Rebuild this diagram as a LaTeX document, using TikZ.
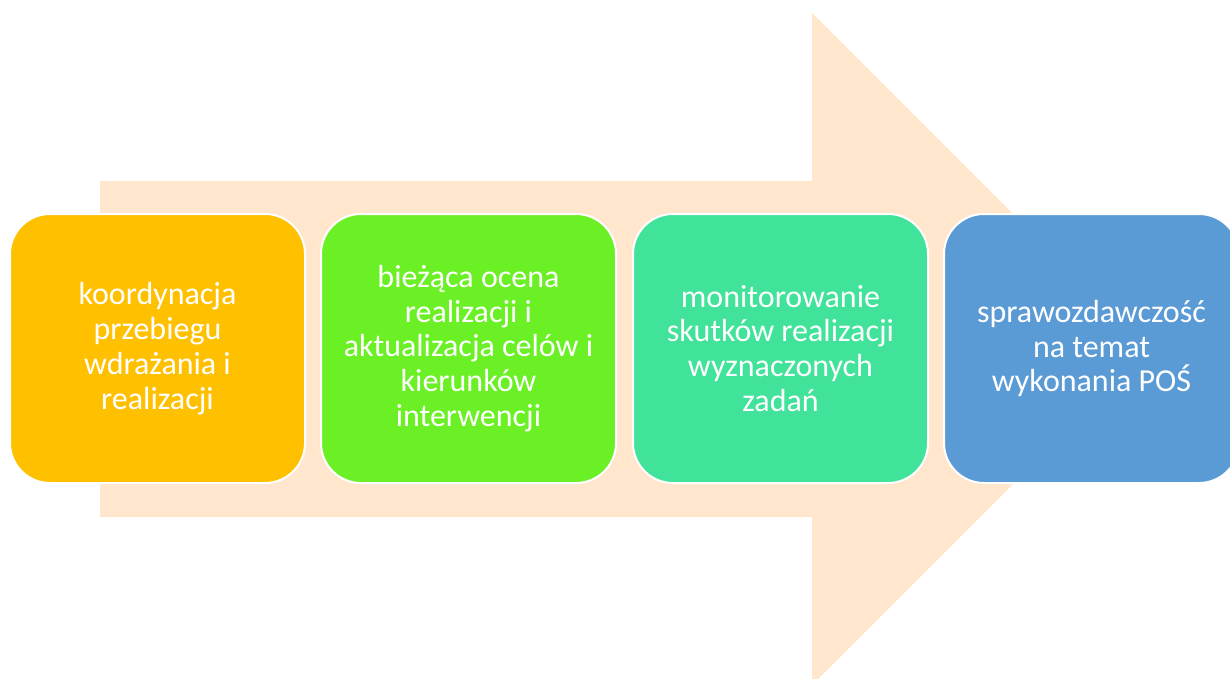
\documentclass[tikz,border=0pt]{standalone}
\usepackage{fontspec}
\setmainfont{Carlito}
\definecolor{arrowfill}{HTML}{FFE6CC}
\definecolor{cA}{HTML}{FFC000}
\definecolor{cB}{HTML}{6AF024}
\definecolor{cC}{HTML}{41E29A}
\definecolor{cD}{HTML}{5B9BD5}
\tikzset{
  stage/.style={rectangle, rounded corners=40pt, draw=white, line width=2pt,
    minimum width=295pt, minimum height=269pt, inner sep=0pt,
    text=white, align=center, font=\fontsize{32pt}{34.8pt}\selectfont},
}
\begin{document}
\begin{tikzpicture}[x=1pt,y=-1pt]
\useasboundingbox (0,0) rectangle (1230,679);
\begin{scope}
\clip (0,0) rectangle (1230,679);
\fill[arrowfill] (100,181) -- (812,181) -- (812,13) -- (1148,349) -- (812,685) -- (812,517) -- (100,517) -- cycle;
\node[stage, fill=cA] (s1) at (157.5,348.5) {koordynacja\\przebiegu\\wdrażania i\\realizacji};
\node[stage, fill=cB] (s2) at (468.5,348.5) {bieżąca ocena\\realizacji i\\aktualizacja celów i\\kierunków\\interwencji};
\node[stage, fill=cC] (s3) at (780.5,348.5) {monitorowanie\\skutków realizacji\\wyznaczonych\\zadań};
\node[stage, fill=cD] (s4) at (1091.5,348.5) {sprawozdawczość\\na temat\\wykonania POŚ};
\end{scope}
\end{tikzpicture}
\end{document}
